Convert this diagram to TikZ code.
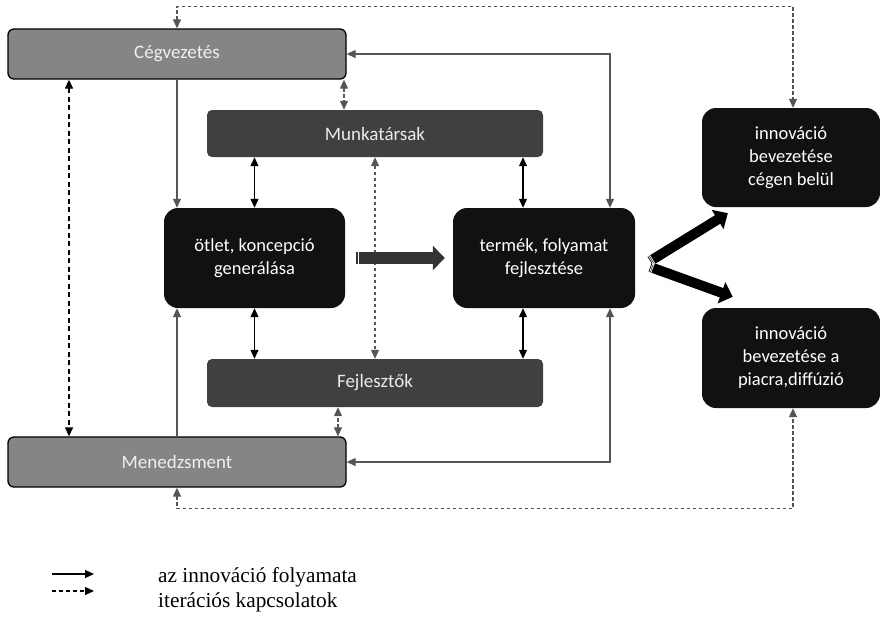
\documentclass[tikz,border=0pt]{standalone}
\usepackage{fontspec}
\setmainfont{Liberation Serif}
\newfontfamily\boxfont{Carlito}
\usetikzlibrary{arrows.meta,calc}
\definecolor{midgray}{HTML}{858585}
\definecolor{darkbox}{HTML}{404040}
\definecolor{blackbox}{HTML}{111111}
\definecolor{linegray}{HTML}{555555}
\definecolor{dashgray}{HTML}{555555}
\definecolor{blockgray}{HTML}{333333}
\tikzset{
  tip/.style={-{Triangle[width=8pt,length=9pt]}},
  bitip/.style={{Triangle[width=8pt,length=9pt]}-{Triangle[width=8pt,length=9pt]}},
  graybox/.style={draw=black, line width=1.3pt, fill=midgray, rounded corners=6pt,
    minimum width=338pt, minimum height=50pt, text=white!94!black, font=\boxfont\fontsize{19}{22}\selectfont},
  darkrect/.style={fill=darkbox, rounded corners=5pt, minimum width=336pt, minimum height=47pt,
    text=white!92!black, font=\boxfont\fontsize{19}{22}\selectfont},
  blackrect/.style={fill=blackbox, rounded corners=14pt, text=white, align=center,
    font=\boxfont\fontsize{18.5}{23}\selectfont},
  solidline/.style={draw=linegray, line width=1.1pt},
  solidblack/.style={draw=black, line width=1.1pt},
  dotgray/.style={draw=dashgray, line width=1.1pt, dash pattern=on 3.5pt off 2.5pt},
  dashblack/.style={draw=black, line width=1.3pt, dash pattern=on 5pt off 3.5pt},
  blockarrow/.style={black, line width=10pt, -{Triangle[width=22pt,length=12pt]}},
  stripe/.style={draw=white, line width=0.7pt},
  legendtext/.style={anchor=base west, inner sep=0pt, font=\fontsize{21.3}{25}\selectfont}
}
\begin{document}
\begin{tikzpicture}[x=1pt,y=-1pt]
\useasboundingbox (0,0) rectangle (880,627);

% nodes
\node[graybox] (ceg) at (177,54) {Cégvezetés};
\node[darkrect] (munka) at (375,133.5) {Munkatársak};
\node[blackrect, minimum width=181pt, minimum height=100pt] (otlet) at (254.5,258) {ötlet, koncepció\\generálása};
\node[blackrect, minimum width=182pt, minimum height=100pt] (termek) at (544,258) {termék, folyamat\\fejlesztése};
\node[darkrect, minimum height=48pt] (fejl) at (375,383) {Fejlesztők};
\node[graybox] (men) at (177,462) {Menedzsment};
\node[blackrect, minimum width=178pt, minimum height=99pt] (inn1) at (791,157.5) {innováció\\bevezetése\\cégen belül};
\node[blackrect, minimum width=178pt, minimum height=100pt] (inn2) at (791,358) {innováció\\bevezetése a\\piacra,diffúzió};

% long dotted iteration loops
\draw[dotgray, bitip] (ceg.north) -- ++(0,-22) -| ([xshift=2pt]inn1.north);
\draw[dotgray, bitip] (men.south) -- ++(0,21) -| ([xshift=2pt]inn2.south);

% left dashed
\draw[dashblack, bitip] ([xshift=-108pt]ceg.south) -- ([xshift=-108pt]men.north);

% small dotted double arrows
\draw[dotgray, bitip] ([xshift=167pt]ceg.south) -- ([xshift=167pt]ceg.south |- munka.north);
\draw[dotgray, bitip] ([xshift=161pt]men.north) -- ([xshift=161pt]men.north |- fejl.south);
\draw[dotgray, bitip] (munka.south) -- (fejl.north);

% management to idea
\draw[solidline, tip] (ceg.south) -- (ceg.south |- otlet.north);
\draw[solidline, tip] (men.north) -- (men.north |- otlet.south);

% right loops
\draw[solidline, bitip] (ceg.east) -| ([xshift=66pt]termek.north);
\draw[solidline, bitip] (men.east) -| ([xshift=66pt]termek.south);

% vertical double arrows
\draw[solidblack, bitip] (otlet.north) -- (otlet.north |- munka.south);
\draw[solidblack, bitip] (otlet.south) -- (otlet.south |- fejl.north);
\draw[solidblack, bitip] ([xshift=-21pt]termek.north) -- ([xshift=-21pt]termek.north |- munka.south);
\draw[solidblack, bitip] ([xshift=-21pt]termek.south) -- ([xshift=-21pt]termek.south |- fejl.north);

% block arrow otlet -> termek
\draw[blockgray, line width=12pt, -{Triangle[width=24pt,length=12pt]}]
  ([xshift=15pt]otlet.east) -- ([xshift=-8pt]termek.west);
\fill[blockgray] ([xshift=11pt,yshift=-6pt]otlet.east) rectangle ([xshift=12.5pt,yshift=6pt]otlet.east);
\fill[blockgray] ([xshift=13.5pt,yshift=-6pt]otlet.east) rectangle ([xshift=14.5pt,yshift=6pt]otlet.east);

% block arrows termek -> innovation
\coordinate (s1) at ([xshift=15pt,yshift=-3pt]termek.east);
\coordinate (s2) at ([xshift=15pt,yshift=-9pt]termek.east);
\coordinate (e1) at ([xshift=26pt,yshift=-6pt]inn1.south west);
\coordinate (e2) at ([xshift=31pt,yshift=11pt]inn2.north west);
\draw[blockarrow] (s1) -- (e1);
\draw[blockarrow] (s2) -- (e2);
\foreach \d in {1.2,2.6}{
  \draw[stripe] ($($(s1)!\d pt!(e1)$)!5.2pt!90:(e1)$) -- ($($(s1)!\d pt!(e1)$)!5.2pt!-90:(e1)$);
  \draw[stripe] ($($(s2)!\d pt!(e2)$)!5.2pt!90:(e2)$) -- ($($(s2)!\d pt!(e2)$)!5.2pt!-90:(e2)$);
}

% legend
\coordinate (l1a) at (52,574);
\coordinate (l1b) at (94,574);
\coordinate (l2a) at (52,591);
\coordinate (l2b) at (94,591);
\draw[black, line width=1.1pt, tip] (l1a) -- (l1b);
\draw[black, line width=1.1pt, dash pattern=on 4pt off 3pt, tip] (l2a) -- (l2b);
\node[legendtext] (t1) at (158,582) {az innováció folyamata};
\node[legendtext] (t2) at (158,607) {iterációs kapcsolatok};
\end{tikzpicture}
\end{document}
